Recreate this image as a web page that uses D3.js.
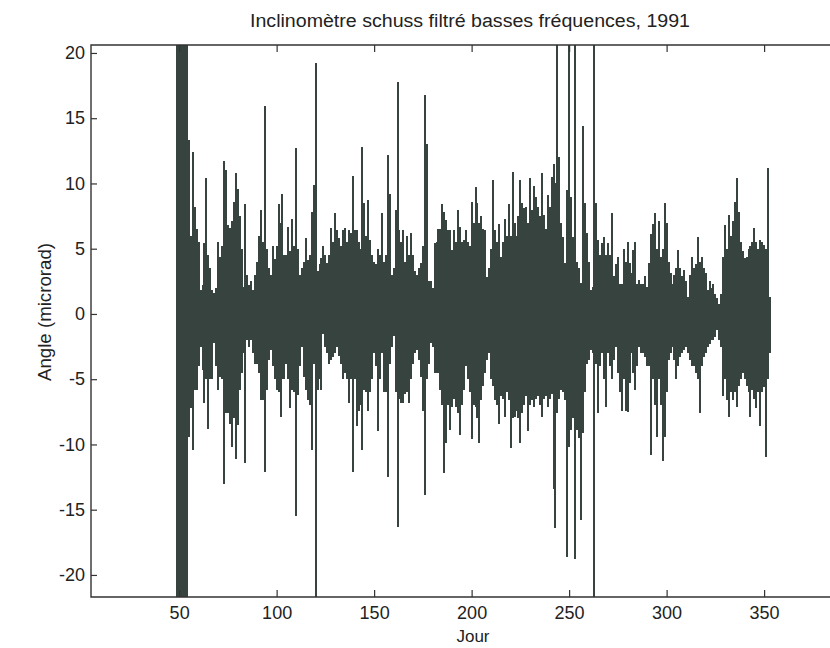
<!DOCTYPE html>
<html>
<head>
<meta charset="utf-8">
<script src="https://d3js.org/d3.v7.min.js"></script>
<style>
  body { margin: 0; background: #fff; }
  text { font-family: "Liberation Sans", Arial, sans-serif; fill: #222; }
</style>
</head>
<body>
<script>

//Chart size (in pixels)
var width = 830,
    height = 648;

//Daily envelope of the filtered signal (microrad)
//first value is day 49, one value per day up to day 353
var firstDay = 49;

var hiValues = [
  25, 25, 25, 25, 25, 25, 13.3, 6, 12.4, 8.2,          // 49-58
  6.5, 5.5, 1.8, 2.2, 5.4, 10.4, 4.5, 3.5, 1.8, 1.6,   // 59-68
  2, 5.5, 4.4, 5.2, 11.7, 11, 6.8, 6.6, 7.1, 8.6,      // 69-78
  10.8, 9.6, 7.5, 5, 2.1, 8.4, 3, 2.2, 2.5, 1.8,       // 79-88
  3, 4, 6, 8, 5.5, 15.9, 5, 3.5, 3, 5.2,               // 89-98
  4.2, 5.2, 8.4, 7, 9.2, 4.5, 4.5, 6.7, 4.8, 7.3,      // 99-108
  5.2, 12.7, 5, 3, 3.5, 4, 5.8, 4.1, 4.5, 7.8,         // 109-118
  9.9, 19.2, 3.3, 3.8, 4.3, 5.2, 4.5, 3.9, 4.5, 6.6,   // 119-128
  5.5, 7.7, 6.4, 5.8, 5.2, 6.4, 6.6, 5.5, 6.4, 6.2,    // 129-138
  10.6, 6.4, 6.4, 5.5, 5, 12.8, 8.5, 6, 8.7, 5.7,      // 139-148
  4.5, 4, 3.8, 5, 4.5, 7.7, 4, 4.5, 12.2, 9.2,         // 149-158
  3, 3.5, 8, 17.8, 6.4, 5.5, 6.4, 4, 6, 4.5,           // 159-168
  6.2, 4.5, 3.3, 3, 3.5, 3.9, 5.2, 16.8, 13, 2.5,      // 169-178
  2.5, 2, 5.4, 5.5, 6.5, 6.5, 8.4, 7.8, 7.2, 6.4,      // 179-188
  6.4, 4.9, 6.4, 5.5, 8, 6.7, 5.5, 5.7, 6.4, 5.5,      // 189-198
  5.2, 8.6, 7, 9.7, 8.5, 7, 7.5, 6.5, 6.4, 2.8,        // 199-208
  3.5, 5, 10.3, 6.4, 5.5, 6.9, 4.4, 5.5, 7.3, 6,       // 209-218
  8.4, 6, 10.9, 7, 6, 7.5, 10.3, 8.5, 8.1, 8.2,        // 219-228
  7, 10.4, 8, 9.8, 9, 8.2, 7.5, 10.8, 7.6, 6.5,        // 229-238
  9.1, 8.2, 10.5, 11.5, 10, 25, 12, 7, 5.9, 3.9,       // 239-248
  9.5, 25, 9, 5.9, 25, 4, 3.5, 2.4, 14.4, 8.5,         // 249-258
  6.2, 4, 1.8, 2.1, 25, 8.5, 5.7, 4.5, 5.4, 5.9,       // 259-268
  4.5, 5.4, 4.5, 7.7, 2.9, 3.8, 4.4, 2.3, 2.3, 5,      // 269-278
  4, 5.5, 3.9, 3.1, 4.9, 5.5, 2.3, 2.6, 2.3, 2.3,      // 279-288
  2.9, 2.1, 3.9, 6.1, 6.9, 7.7, 5, 7.1, 4.4, 5,        // 289-298
  8.5, 7, 4, 3.1, 2.3, 3, 3.5, 4.9, 3.5, 2.9,          // 299-308
  3.4, 2.5, 1.3, 3, 4.4, 3.5, 3.8, 5.9, 4, 4.4,        // 309-318
  3.5, 3.1, 1.8, 2.5, 2, 2.3, 1.5, 1.2, 0.8, 1.5,      // 319-328
  4.4, 6.8, 5, 7.6, 6, 7.1, 8.6, 10.4, 7.8, 5.5,       // 329-338
  4.8, 4.3, 4.4, 5, 5.2, 5.5, 6.6, 5.5, 5, 5.7,        // 339-348
  5.5, 5.3, 5, 11.2, 1.3                               // 349-353
];

var loValues = [
  -25, -25, -25, -25, -25, -25, -9.4, -7.2, -10.4, -5.8,     // 49-58
  -5.8, -4, -2.5, -4.3, -6.8, -5, -8.8, -5, -5, -2.2,        // 59-68
  -4, -5.8, -4.8, -5, -13, -7.6, -7.6, -8.4, -10.2, -8,      // 69-78
  -11.1, -8.5, -5.8, -4.5, -3, -11.4, -2, -2.5, -2, -3,      // 79-88
  -3.8, -3.8, -4.5, -6.6, -6.6, -12.1, -5.8, -3.5, -2.8, -4, // 89-98
  -5, -5.8, -6, -7.9, -5, -5, -3.8, -5, -7.2, -5.8,          // 99-108
  -6, -15.5, -6.2, -4, -2.5, -4.8, -5.8, -6.6, -7, -10.4,    // 109-118
  -3.8, -25, -5.8, -5, -5.8, -1.5, -2.5, -3, -3.8, -3.5,     // 119-128
  -3.3, -3, -2.5, -3.2, -3.8, -5, -4.5, -5, -6.8, -5,        // 129-138
  -12.1, -5, -8.6, -7.4, -7, -10.4, -5.8, -6, -7.4, -6,      // 139-148
  -5, -3, -4, -9, -5, -3, -6, -6, -12.5, -3.8,               // 149-158
  -2.5, -1.7, -6, -16.3, -6.5, -6.8, -6.8, -6.1, -6, -6.8,   // 159-168
  -5, -3.8, -3, -2.8, -3.5, -4.8, -7.4, -13.9, -5, -3.8,     // 169-178
  -2.2, -2.5, -4.5, -4.5, -4.5, -5.8, -7, -12.2, -9.9, -7,   // 179-188
  -8.9, -7.1, -6.5, -7.1, -7.6, -9.3, -7, -5.8, -4, -5,      // 189-198
  -6, -9.6, -7, -7.1, -8, -9.9, -6.6, -5.5, -4.5, -3.5,      // 199-208
  -3, -5, -5.5, -6.6, -7, -8.4, -6.3, -6.5, -7.9, -6,        // 209-218
  -6.6, -10.3, -8, -7.9, -7.4, -8, -9.9, -7.6, -7, -6.3,     // 219-228
  -9, -7, -6.6, -7.1, -6.5, -6.3, -7, -7.9, -6.5, -6.3,      // 229-238
  -7.1, -6.5, -6.1, -13.4, -16.4, -7.6, -6.5, -5.8, -6, -6.6, // 239-248
  -18.6, -10.2, -8.9, -8, -18.8, -8.9, -9.5, -15.8, -9.1, -6, // 249-258
  -3.8, -3.5, -2.8, -3, -25, -3.8, -7.6, -4, -3, -5,         // 259-268
  -7.1, -3, -4, -5, -3.5, -2.5, -4.5, -6, -7.4, -5,          // 269-278
  -7.4, -7.5, -5.3, -3, -4.5, -5.8, -4, -2.5, -3, -3,        // 279-288
  -3.3, -4, -4, -10.8, -5, -7, -9.4, -5, -7, -11.3,          // 289-298
  -9.4, -6, -3.5, -3, -2.5, -3.5, -5, -4, -3.3, -3,          // 299-308
  -2.8, -2.5, -3, -3.5, -4, -4, -4.5, -5, -7.6, -4,          // 309-318
  -3.3, -3, -2.5, -2.3, -2, -2, -1.8, -1.2, -2, -2.5,        // 319-328
  -6.3, -5, -6.6, -7.9, -6, -6.6, -6, -7.1, -5.5, -5,        // 329-338
  -4.5, -5, -5.5, -6, -7.9, -5.8, -6.5, -7.2, -6, -8.6,      // 339-348
  -6, -5.6, -11, -5, -3                                      // 349-353
];

var xTicks = [50, 100, 150, 200, 250, 300, 350];
var yTicks = [20, 15, 10, 5, 0, -5, -10, -15, -20];

var titleText = "Inclinomètre schuss filtré basses fréquences, 1991";
var xLabel = "Jour";
var yLabel = "Angle (microrad)";

//Plot box (right edge runs off the page, like the scan)
var plotLeft = 91, plotTop = 45, plotRight = 846, plotBottom = 597;

var x = d3.scaleLinear()
    .domain([4.8, 392])
    .range([plotLeft, plotRight]);

var y = d3.scaleLinear()
    .domain([-21.69, 20.61])
    .range([plotBottom, plotTop]);

var svg = d3.select("body").append("svg")
    .attr("width", width)
    .attr("height", height);

svg.append("clipPath")
    .attr("id", "plotArea")
  .append("rect")
    .attr("x", plotLeft)
    .attr("y", plotTop)
    .attr("width", plotRight - plotLeft)
    .attr("height", plotBottom - plotTop);

//one vertical stroke per day, from the low to the high value
var samples = hiValues.map(function(h, i) {
  return { day: firstDay + i, hi: h, lo: loValues[i] };
});

var line = d3.line()
    .x(function(d) { return x(d[0]); })
    .y(function(d) { return y(d[1]); });

svg.append("g")
    .attr("class", "signal")
    .attr("clip-path", "url(#plotArea)")
  .selectAll("path")
    .data(samples)
    .enter()
    .append("path")
    .attr("d", function(d) { return line([[d.day, d.lo], [d.day, d.hi]]); })
    .attr("fill", "none")
    .attr("stroke", "#37433e")
    .attr("stroke-width", 2)
    .attr("shape-rendering", "crispEdges");

//Axes, ticks pointing inward (Matlab style)
var yAxis = svg.append("g")
    .attr("transform", "translate(" + plotLeft + ",0)")
    .call(d3.axisLeft(y).tickValues(yTicks).tickSize(-6).tickPadding(6)
            .tickFormat(function(d) { return d; }));

var xAxis = svg.append("g")
    .attr("transform", "translate(0," + plotBottom + ")")
    .call(d3.axisBottom(x).tickValues(xTicks).tickSize(-7).tickPadding(9));

var topAxis = svg.append("g")
    .attr("transform", "translate(0," + plotTop + ")")
    .call(d3.axisTop(x).tickValues(xTicks).tickSize(-7).tickFormat(""));

svg.selectAll(".domain").remove();
svg.selectAll(".tick line").attr("stroke", "#333").attr("stroke-width", 1.2);
svg.selectAll(".tick text")
    .attr("font-size", 18)
    .style("font-family", "'Liberation Sans', Arial, sans-serif")
    .attr("fill", "#222");

//box
svg.append("path")
    .attr("d", "M" + plotRight + "," + plotTop + "H" + plotLeft + "V" + plotBottom + "H" + plotRight)
    .attr("fill", "none")
    .attr("stroke", "#333")
    .attr("stroke-width", 1.4);

//Labels
svg.append("text")
    .attr("x", 470)
    .attr("y", 27)
    .attr("text-anchor", "middle")
    .attr("font-size", 18)
    .attr("textLength", 440)
    .attr("lengthAdjust", "spacingAndGlyphs")
    .text(titleText);

svg.append("text")
    .attr("x", 473)
    .attr("y", 642)
    .attr("text-anchor", "middle")
    .attr("font-size", 17)
    .text(xLabel);

svg.append("text")
    .attr("transform", "translate(51,312) rotate(-90)")
    .attr("text-anchor", "middle")
    .attr("font-size", 18)
    .attr("textLength", 138)
    .attr("lengthAdjust", "spacingAndGlyphs")
    .text(yLabel);

</script>
</body>
</html>
